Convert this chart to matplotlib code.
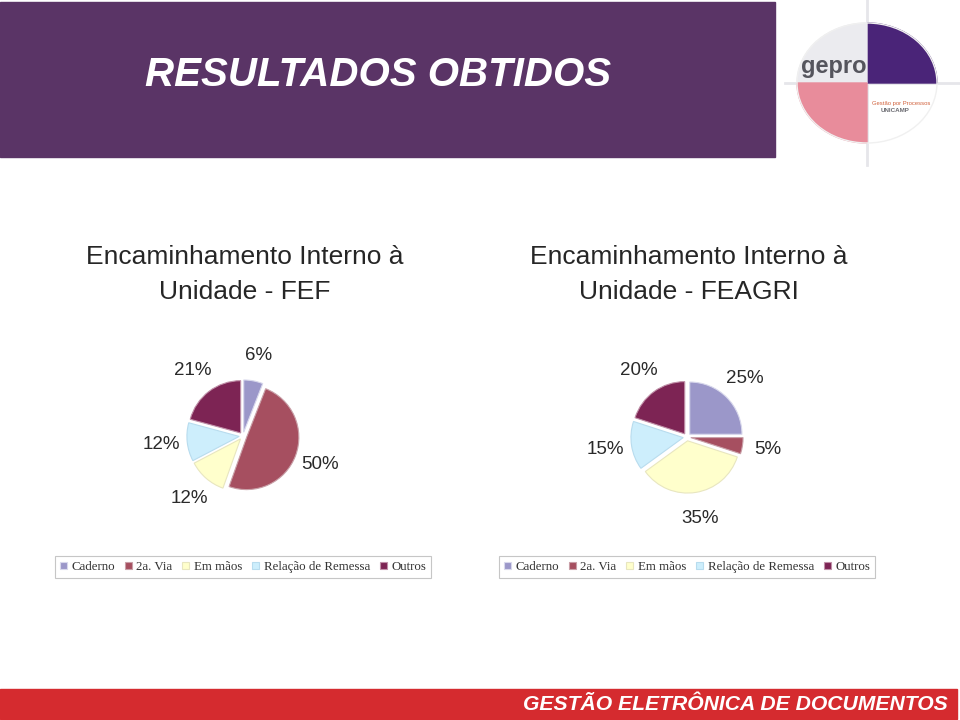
import matplotlib
matplotlib.use("Agg")
import matplotlib.pyplot as plt
from matplotlib.patches import Rectangle, Ellipse, Wedge
from matplotlib.transforms import Affine2D

# data
categories = ["Caderno", "2a. Via", "Em mãos", "Relação de Remessa", "Outros"]
fef_values = [6, 50, 12, 12, 21]
feagri_values = [25, 5, 35, 15, 20]
chart_titles = ["Encaminhamento Interno à\nUnidade - FEF",
                "Encaminhamento Interno à\nUnidade - FEAGRI"]
slide_title = "RESULTADOS OBTIDOS"
footer_text = "GESTÃO ELETRÔNICA DE DOCUMENTOS"

colors = ["#9b97c9", "#a64f60", "#ffffcc", "#cdeefc", "#7d2454"]
edges = ["#d8d8ec", "#c9a0a8", "#e8e6c0", "#b8dcee", "#c090a8"]

plt.rcParams['font.family'] = ['Liberation Sans', 'DejaVu Sans']

W, H = 960, 720
fig = plt.figure(figsize=(9.6, 7.2), dpi=100)
fig.patch.set_facecolor("white")

# background layer in pixel coordinates
bg = fig.add_axes([0, 0, 1, 1])
bg.set_xlim(0, W)
bg.set_ylim(H, 0)
bg.axis("off")

bg.add_patch(Rectangle((0, 2), 775, 155, color="#5a3466", zorder=1))
bg.text(145, 75, slide_title, color="white", fontsize=29, fontweight="bold",
        fontstyle="italic", va="center", ha="left", zorder=2)

bg.add_patch(Rectangle((0, 689), 957, 30, color="#d52b2f", zorder=1))
bg.text(948, 704, footer_text, color="white", fontsize=15.2, fontweight="bold",
        fontstyle="italic", va="center", ha="right", zorder=2)

# logo
lx, ly, la, lb = 867, 83, 70, 60
ell = Affine2D().scale(la, -lb).translate(lx, ly) + bg.transData
bg.plot([lx, lx], [0, 165], color="#e6e6ea", lw=2, zorder=1)
bg.plot([785, 960], [ly, ly], color="#e6e6ea", lw=2, zorder=1)
bg.add_patch(Wedge((0, 0), 1, 0, 90, color="#4a2478", zorder=2, transform=ell))
bg.add_patch(Wedge((0, 0), 1, 90, 180, color="#ebebef", zorder=2, transform=ell))
bg.add_patch(Wedge((0, 0), 1, 180, 270, color="#e88c9b", zorder=2, transform=ell))
bg.add_patch(Ellipse((lx, ly), 2 * la, 2 * lb, fill=False, ec="#f0f0f0", lw=1, zorder=3))
bg.text(834, 67, "gepro", color="#55555d", fontsize=17, fontweight="bold",
        ha="center", va="center", zorder=4)
bg.text(901, 104, "Gestão por Processos", color="#d0603a", fontsize=4.2,
        ha="center", va="center", zorder=4)
bg.text(895, 111, "UNICAMP", color="#6a6a70", fontsize=4.5, fontweight="bold",
        ha="center", va="center", zorder=4)

# pies
centers = [(243, 436), (687, 437)]
title_x = [245, 689]
for (cx, cy), tx, vals, ttl in zip(centers, title_x, [fef_values, feagri_values], chart_titles):
    l1, l2 = ttl.split("\n")
    bg.text(tx, 257, l1, fontsize=19, color="#262626", ha="center", va="center")
    bg.text(tx, 292, l2, fontsize=19, color="#262626", ha="center", va="center")

    ax = fig.add_axes([(cx - 110) / W, 1 - (cy + 110) / H, 220 / W, 220 / H])
    wedges, _, autotexts = ax.pie(vals, colors=colors, startangle=90, counterclock=False,
                                  radius=0.95, explode=[0.07] * len(vals),
                                  autopct="%d%%", pctdistance=1.5,
                                  wedgeprops=dict(linewidth=0.8),
                                  textprops=dict(fontsize=13.5, color="#2a2a2a"))
    for w, e in zip(wedges, edges):
        w.set_edgecolor(e)
    for t, v in zip(autotexts, vals):
        t.set_text(f"{v}%")
    ax.set_xlim(-2, 2)
    ax.set_ylim(-2, 2)
    ax.set_aspect("equal")
    ax.axis("off")

    leg = ax.legend(wedges, categories, loc="center", ncol=5,
                    bbox_to_anchor=(cx / W, 1 - 567 / H), bbox_transform=fig.transFigure,
                    prop=dict(family="Liberation Serif", size=9.3),
                    handlelength=0.55, handleheight=0.55, handletextpad=0.35,
                    columnspacing=0.75, borderpad=0.4, fancybox=False,
                    frameon=True, edgecolor="#b8b8b8")
    leg.get_frame().set_linewidth(0.8)
    for t in leg.get_texts():
        t.set_color("#333333")

fig.savefig("out.png", dpi=100)
